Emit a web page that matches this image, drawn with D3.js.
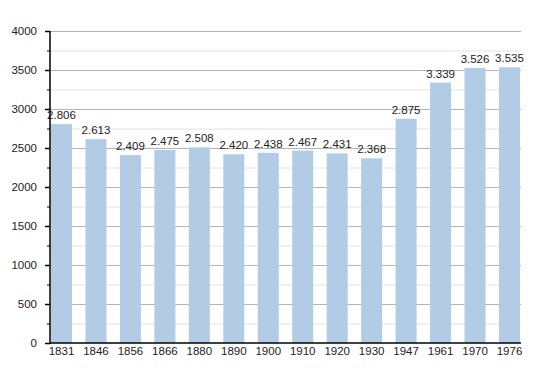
<!DOCTYPE html>
<html>
<head>
<meta charset="utf-8">
<script src="https://cdn.jsdelivr.net/npm/d3@7"></script>
<style>
  body { margin: 0; background: #fff; }
  text { font-family: "Liberation Sans", Arial, sans-serif; fill: #222; }
</style>
</head>
<body>
<div id="chart"></div>
<script>
// Population by census year
const years = ["1831", "1846", "1856", "1866", "1880", "1890", "1900", "1910", "1920", "1930", "1947", "1961", "1970", "1976"];
const population = [2806, 2613, 2409, 2475, 2508, 2420, 2438, 2467, 2431, 2368, 2875, 3339, 3526, 3535];
const majorTicks = [0, 500, 1000, 1500, 2000, 2500, 3000, 3500, 4000];
const minorTicks = [250, 750, 1250, 1750, 2250, 2750, 3250, 3750];

const width = 550, height = 373;
const margins = {top: 31, right: 29, bottom: 30, left: 50};

const svg = d3.select("#chart")
  .append("svg")
  .attr("width", width)
  .attr("height", height);

// value labels use a dot as thousands separator
const itFormat = d3.formatLocale({decimal: ",", thousands: ".", grouping: [3], currency: ["", "€"]}).format(",d");

const xScale = d3.scaleBand()
  .domain(years)
  .range([margins.left + 1, width - margins.right - 1])
  .paddingInner(0.39)
  .paddingOuter(0);

const yScale = d3.scaleLinear()
  .domain([0, 4000])
  .range([height - margins.bottom, margins.top]);

// minor grid
svg.append("g")
  .selectAll("line")
  .data(minorTicks)
  .join("line")
    .attr("x1", margins.left)
    .attr("x2", width - margins.right)
    .attr("y1", d => yScale(d) + 0.5)
    .attr("y2", d => yScale(d) + 0.5)
    .attr("stroke", "#e2e2e2");

// major grid
svg.append("g")
  .selectAll("line")
  .data(majorTicks.slice(1))
  .join("line")
    .attr("x1", margins.left)
    .attr("x2", width - margins.right)
    .attr("y1", d => yScale(d) + 0.5)
    .attr("y2", d => yScale(d) + 0.5)
    .attr("stroke", "#b4b4b4");

// bars
svg.append("g")
  .selectAll("rect")
  .data(population)
  .join("rect")
    .attr("x", (d, i) => xScale(years[i]))
    .attr("y", d => yScale(d))
    .attr("width", xScale.bandwidth())
    .attr("height", d => yScale(0) - yScale(d))
    .attr("fill", "#b3cce6");

// value labels
svg.append("g")
  .selectAll("text")
  .data(population)
  .join("text")
    .attr("x", (d, i) => xScale(years[i]) + xScale.bandwidth() / 2)
    .attr("y", d => yScale(d) - 5)
    .attr("text-anchor", "middle")
    .style("font-size", "11.5px")
    .text(d => itFormat(d));

// y axis
const yGroup = svg.append("g")
    .attr("transform", `translate(${margins.left},0)`)
  .call(d3.axisLeft(yScale).tickValues(majorTicks).tickFormat(d3.format("d")).tickSize(5).tickPadding(8))
  .call(g => g.select(".domain").remove());

yGroup.selectAll(".tick line").attr("stroke", "#000").attr("stroke-width", 1.5);
yGroup.selectAll("text").style("font-size", "11.5px").attr("fill", "#222");

svg.append("g")
  .selectAll("line")
  .data(minorTicks)
  .join("line")
    .attr("x1", margins.left - 3)
    .attr("x2", margins.left)
    .attr("y1", d => yScale(d) + 0.5)
    .attr("y2", d => yScale(d) + 0.5)
    .attr("stroke", "#000");

svg.append("line")
  .attr("x1", margins.left)
  .attr("x2", margins.left)
  .attr("y1", margins.top)
  .attr("y2", yScale(0) + 1)
  .attr("stroke", "#000")
  .attr("stroke-width", 1.5);

// x axis
const xGroup = svg.append("g")
    .attr("transform", `translate(0,${yScale(0)})`)
  .call(d3.axisBottom(xScale).tickSize(0).tickPadding(4))
  .call(g => g.select(".domain").remove());

xGroup.selectAll("text").style("font-size", "11.5px").attr("fill", "#222");

svg.append("line")
  .attr("x1", margins.left)
  .attr("x2", width - margins.right)
  .attr("y1", yScale(0))
  .attr("y2", yScale(0))
  .attr("stroke", "#000")
  .attr("stroke-width", 1.5);
</script>
</body>
</html>
